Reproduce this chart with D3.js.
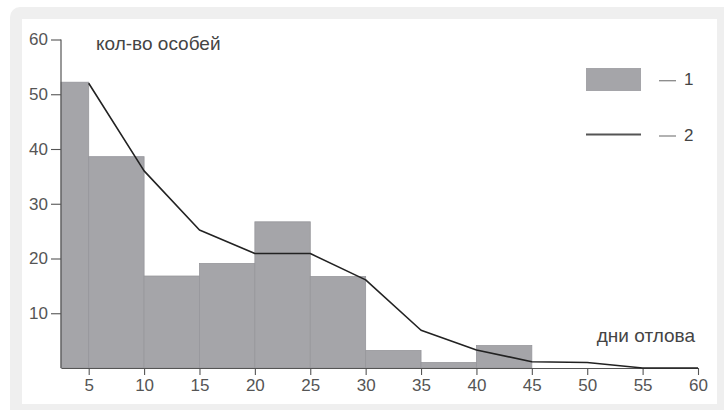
<!DOCTYPE html>
<html>
<head>
<meta charset="utf-8">
<script src="https://cdn.jsdelivr.net/npm/d3@7/dist/d3.min.js"></script>
<style>
  html, body { margin: 0; padding: 0; background: #fff; }
  svg { display: block; font-family: "Liberation Sans", Arial, sans-serif; }
</style>
</head>
<body>
<svg id="chart" width="724" height="410"></svg>
<script>
// Histogram bins: [start, end] in days and number of individuals
const binStart = [2.5, 5, 10, 15, 20, 25, 30, 35, 40];
const binEnd   = [5, 10, 15, 20, 25, 30, 35, 40, 45];
const binCount = [52.2, 38.6, 16.8, 19.1, 26.7, 16.7, 3.2, 1.0, 4.1];

// Smoothed curve (series 2)
const lineDays  = [5, 10, 15, 20, 25, 30, 35, 40, 45, 50, 55, 60];
const lineCount = [52, 36, 25.2, 20.9, 20.9, 16.1, 6.9, 3.3, 1.15, 1.0, 0, 0];

const xTicks = [5, 10, 15, 20, 25, 30, 35, 40, 45, 50, 55, 60];
const yTicks = [10, 20, 30, 40, 50, 60];

const svg = d3.select("#chart");

// Frame
svg.append("rect").attr("x", 10).attr("y", 7).attr("width", 730).attr("height", 420)
  .attr("rx", 10).attr("fill", "#efefef");
svg.append("rect").attr("x", 22).attr("y", 19).attr("width", 695).attr("height", 385)
  .attr("fill", "#fff");

const x = d3.scaleLinear().domain([2.5, 60]).range([61, 698]);
const y = d3.scaleLinear().domain([0, 60]).range([368, 39.5]);

// Bars
svg.append("g").selectAll("rect").data(binCount).join("rect")
  .attr("x", (d, i) => x(binStart[i]))
  .attr("width", (d, i) => x(binEnd[i]) - x(binStart[i]))
  .attr("y", d => y(d))
  .attr("height", d => y(0) - y(d))
  .attr("fill", "#a5a5a9")
  .attr("stroke", "#96969b")
  .attr("stroke-width", 0.8);

// Axes
const axisColor = "#555";
const xAxis = svg.append("g").attr("transform", `translate(0,${y(0)})`)
  .call(d3.axisBottom(x).tickValues(xTicks).tickSize(7).tickSizeOuter(0).tickPadding(4));
const yAxis = svg.append("g").attr("transform", `translate(${x(2.5)},0)`)
  .call(d3.axisLeft(y).tickValues(yTicks).tickSize(10).tickSizeOuter(0).tickPadding(3));

[xAxis, yAxis].forEach(g => {
  g.select(".domain").attr("stroke", axisColor).attr("stroke-width", 1.2);
  g.selectAll(".tick line").attr("stroke", axisColor).attr("stroke-width", 1.1);
  g.selectAll(".tick text").attr("fill", "#555").attr("font-size", 17)
    .attr("font-family", "Liberation Sans, Arial, sans-serif");
});
// y axis line runs from the baseline up to the top tick
yAxis.select(".domain").attr("d", `M0,${y(0)}V${y(60)}`);

// Curve
svg.append("path")
  .datum(lineDays.map((d, i) => [d, lineCount[i]]))
  .attr("fill", "none")
  .attr("stroke", "#222")
  .attr("stroke-width", 1.6)
  .attr("stroke-linejoin", "round")
  .attr("d", d3.line().x(d => x(d[0])).y(d => y(d[1])));

// Axis titles
svg.append("text").attr("x", 96).attr("y", 50).attr("font-size", 19).attr("fill", "#444")
  .text("кол-во особей");
svg.append("text").attr("x", 695).attr("y", 342).attr("text-anchor", "end")
  .attr("font-size", 19).attr("fill", "#444").text("дни отлова");

// Legend
const legend = svg.append("g");
legend.append("rect").attr("x", 586).attr("y", 68).attr("width", 55).attr("height", 23)
  .attr("fill", "#a5a5a9");
legend.append("line").attr("x1", 586).attr("x2", 641).attr("y1", 134.5).attr("y2", 134.5)
  .attr("stroke", "#555").attr("stroke-width", 1.8);
[[80.7, "1", 84.5], [136, "2", 141]].forEach(([ly, label, ty]) => {
  legend.append("line").attr("x1", 659).attr("x2", 676).attr("y1", ly).attr("y2", ly)
    .attr("stroke", "#888").attr("stroke-width", 1.3);
  legend.append("text").attr("x", 684).attr("y", ty).attr("font-size", 17).attr("fill", "#444")
    .text(label);
});
</script>
</body>
</html>
